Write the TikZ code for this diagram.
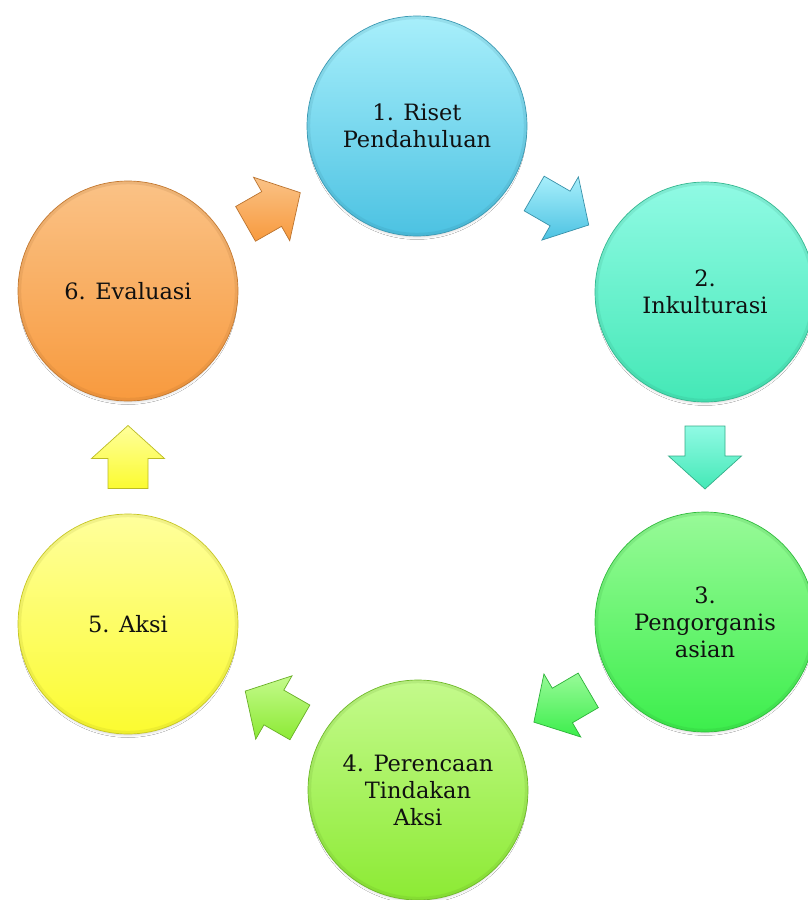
\documentclass[tikz,border=0pt]{standalone}
\usepackage{fontspec}
\setmainfont{DejaVu Serif}
\usetikzlibrary{calc,shadows.blur}
\definecolor{txt}{HTML}{101010}
\definecolor{aT}{HTML}{A8EFFB}\definecolor{aB}{HTML}{4CC2E2}
\definecolor{bT}{HTML}{90FAE4}\definecolor{bB}{HTML}{44E8B6}
\definecolor{cT}{HTML}{98FA98}\definecolor{cB}{HTML}{3CEE4C}
\definecolor{dT}{HTML}{C4FA8C}\definecolor{dB}{HTML}{8CEA34}
\definecolor{eT}{HTML}{FFFF9C}\definecolor{eB}{HTML}{FBFB30}
\definecolor{fT}{HTML}{FAC286}\definecolor{fB}{HTML}{F89A3E}
\tikzset{
  bubble/.style 2 args={circle, minimum size=220pt, inner sep=0pt, align=center,
    text=txt, font=\fontsize{22.5}{27}\selectfont, top color=#1, bottom color=#2,
    draw=#2!80!black, line width=0.7pt,
    blur shadow={shadow xshift=0pt, shadow yshift=-4pt, shadow scale=0.97, shadow blur radius=3pt, shadow opacity=22}},
  rim/.style={line width=3pt, draw opacity=0.13},
  arrowcol/.style 2 args={top color=#1, bottom color=#2, draw=#2!75!black, line width=0.7pt,
    blur shadow={shadow xshift=1pt, shadow yshift=-2pt, shadow blur radius=2pt, shadow opacity=25}},
  blockarrow/.pic={\path[pic actions] (-31,-20) -- (-1,-20) -- (-1,-36.5) -- (32,0) -- (-1,36.5) -- (-1,20) -- (-31,20) -- cycle;}
}
\begin{document}
\begin{tikzpicture}[x=1pt,y=-1pt]
\useasboundingbox[fill=white] (0,0) rectangle (808,900);
\node[bubble={aT}{aB}] (c1) at (417,126) {1. Riset\\Pendahuluan};
\node[bubble={bT}{bB}] (c2) at (705,292) {2.\\Inkulturasi};
\node[bubble={cT}{cB}] (c3) at (705,622) {3.\\Pengorganis\\asian};
\node[bubble={dT}{dB}] (c4) at (418,790) {4. Perencaan\\Tindakan\\Aksi};
\node[bubble={eT}{eB}] (c5) at (128,624) {5. Aksi};
\node[bubble={fT}{fB}] (c6) at (128,291) {6. Evaluasi};
\draw[rim, draw=aB!60!black] (c1) circle[radius=108.3];
\draw[rim, draw=bB!60!black] (c2) circle[radius=108.3];
\draw[rim, draw=cB!60!black] (c3) circle[radius=108.3];
\draw[rim, draw=dB!60!black] (c4) circle[radius=108.3];
\draw[rim, draw=eB!60!black] (c5) circle[radius=108.3];
\draw[rim, draw=fB!60!black] (c6) circle[radius=108.3];
\pic[rotate=29.7, arrowcol={fT}{fB}] at ($(c6)!0.5!(c1)$) {blockarrow};
\pic[rotate=-30, arrowcol={aT}{aB}] at ($(c1)!0.5!(c2)$) {blockarrow};
\pic[rotate=-90, arrowcol={bT}{bB}] at ($(c2)!0.5!(c3)$) {blockarrow};
\pic[rotate=-149.7, arrowcol={cT}{cB}] at ($(c3)!0.5!(c4)$) {blockarrow};
\pic[rotate=150.2, arrowcol={dT}{dB}] at ($(c4)!0.5!(c5)$) {blockarrow};
\pic[rotate=90, arrowcol={eT}{eB}] at ($(c5)!0.5!(c6)$) {blockarrow};
\end{tikzpicture}
\end{document}
